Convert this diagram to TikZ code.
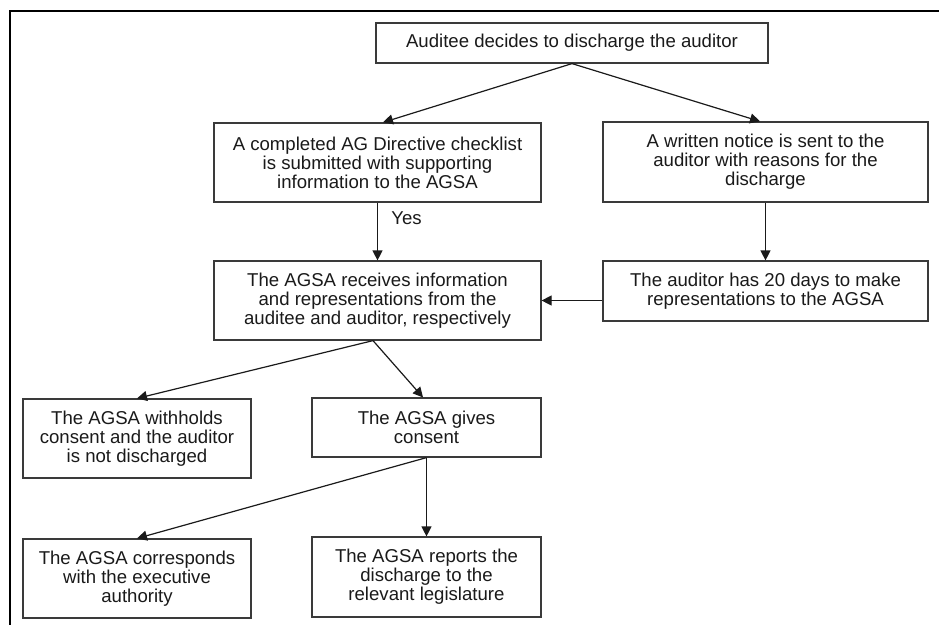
\documentclass[tikz,border=0pt]{standalone}
\usepackage{fontspec}
\setmainfont{Liberation Sans}
\usetikzlibrary{arrows.meta}
\definecolor{txt}{HTML}{1A1A1A}
\definecolor{edge}{HTML}{3A3A3A}
\tikzset{
  box/.style={draw=edge, line width=1.2pt, align=center, inner sep=0pt,
    text=txt, font=\fontsize{18.6}{19}\selectfont},
  conn/.style={draw=txt, line width=1.2pt, -{Triangle[length=10pt,width=10pt]}},
  frameline/.style={draw=black, line width=1.8pt}
}
\begin{document}
\begin{tikzpicture}[x=1pt,y=-1pt]
\useasboundingbox[fill=white] (0,0) rectangle (939,625);
\coordinate (ftl) at (10,11);
\coordinate (ftr) at (939,11);
\coordinate (fbl) at (10,625);
\draw[frameline] (ftr) -- (ftl) -- (fbl);

\node[box, minimum width=392pt, minimum height=40pt] (b1) at (572,43) {Auditee decides to discharge the auditor};
\node[box, minimum width=327pt, minimum height=79pt] (b2) at (377.5,162.5) {A completed AG Directive checklist\\is submitted with supporting\\information to the AGSA};
\node[box, minimum width=325pt, minimum height=80pt] (b3) at (765.5,162) {A written notice is sent to the\\auditor with reasons for the\\discharge};
\node[box, minimum width=327pt, minimum height=79pt] (b4) at (377.5,300.5) {The AGSA receives information\\and representations from the\\auditee and auditor, respectively};
\node[box, minimum width=325pt, minimum height=60pt] (b5) at (765.5,291) {The auditor has 20 days to make\\representations to the AGSA};
\node[box, minimum width=228pt, minimum height=79pt] (b6) at (137,438.5) {The AGSA withholds\\consent and the auditor\\is not discharged};
\node[box, minimum width=229pt, minimum height=59pt] (b7) at (426.5,427.5) {The AGSA gives\\consent};
\node[box, minimum width=228pt, minimum height=79pt] (b8) at (137,578.5) {The AGSA corresponds\\with the executive\\authority};
\node[box, minimum width=229pt, minimum height=80pt] (b9) at (426.5,577) {The AGSA reports the\\discharge to the\\relevant legislature};

\draw[conn] (b1.south) -- ([xshift=5.5pt]b2.north);
\draw[conn] (b1.south) -- ([xshift=-5.5pt]b3.north);
\draw[conn] (b2.south) -- node[pos=0.27, right=10pt, text=txt, font=\fontsize{18.6}{19}\selectfont] (yes) {Yes} (b4.north);
\draw[conn] (b3.south) -- (b5.north);
\draw[conn] (b4.east -| b5.west) -- (b4.east);
\draw[conn] ([xshift=-4.5pt]b4.south) -- (b6.north);
\draw[conn] ([xshift=-4.5pt]b4.south) -- ([xshift=-3.5pt]b7.north);
\draw[conn] (b7.south) -- (b8.north);
\draw[conn] (b7.south) -- (b9.north);
\end{tikzpicture}
\end{document}
